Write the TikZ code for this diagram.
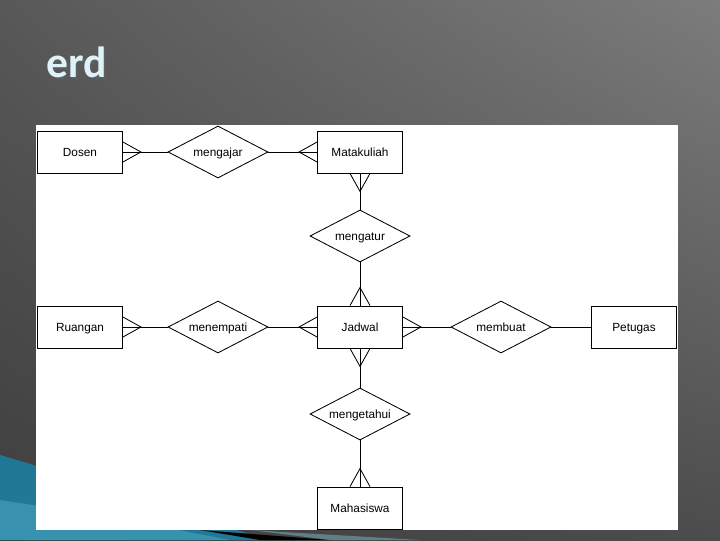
\documentclass[tikz,border=0pt]{standalone}
\usepackage{fontspec}
\setmainfont{Liberation Sans}
\newfontfamily\titlefont{Carlito}
\usetikzlibrary{shapes.geometric,calc,shadings}
\definecolor{slidetl}{RGB}{88,88,88}
\definecolor{slidetr}{RGB}{124,124,124}
\definecolor{slidebl}{RGB}{62,62,62}
\definecolor{slidebr}{RGB}{76,76,76}
\definecolor{swoosh}{RGB}{30,120,150}
\definecolor{swooshlight}{RGB}{80,170,200}
\definecolor{titlewhite}{RGB}{222,242,250}

\tikzset{
  entitybox/.style={draw, line width=0.6pt, fill=white, minimum width=2.125cm, minimum height=1.05cm, inner sep=0pt, text height=1.6ex, text depth=0.4ex, font=\fontsize{8.4}{10}\selectfont},
  relation/.style={draw, diamond, aspect=2, line width=0.6pt, fill=white, minimum width=2.5cm, minimum height=1.3cm, inner sep=0pt, text height=1.6ex, text depth=0.4ex, font=\fontsize{8.4}{10}\selectfont},
  link/.style={line width=0.6pt}
}
% crow's foot: #1 anchor, #2 length (sign gives direction)
\newcommand{\crowh}[2]{\draw[link] ($(#1)+(0,10)$) -- ($(#1)+(#2,0)$) -- ($(#1)+(0,-10)$);}
\newcommand{\crowv}[2]{\draw[link] ($(#1)+(10,0)$) -- ($(#1)+(0,#2)$) -- ($(#1)+(-10,0)$);}

\begin{document}
\begin{tikzpicture}[x=0.025cm, y=-0.025cm]
\useasboundingbox (0,0) rectangle (720,540);

% slide background
\shade[upper left=slidetl, upper right=slidetr, lower left=slidebl, lower right=slidebr] (0,0) rectangle (720,540);
\fill[swoosh] (0,455) .. controls (120,490) and (200,520) .. (270,540) -- (0,540) -- cycle;
\fill[swooshlight, opacity=0.5] (0,500) .. controls (100,515) and (180,530) .. (230,540) -- (0,540) -- cycle;
\fill[black] (200,530) -- (330,540) -- (260,540) -- cycle;
\fill[gray!70!swoosh] (250,530) -- (420,540) -- (330,540) -- cycle;

\node[anchor=base west, text=black!60, opacity=0.5, font=\titlefont\bfseries\fontsize{31}{36}\selectfont] at (44,79) {erd};
\node[anchor=base west, text=titlewhite, font=\titlefont\bfseries\fontsize{31}{36}\selectfont] (title) at (42,77) {erd};

% white panel
\fill[white] (36,125) rectangle (678,530);

% entities
\node[entitybox] (dosen) at (80,152) {Dosen};
\node[entitybox] (matakuliah) at (360,152) {Matakuliah};
\node[entitybox] (ruangan) at (80,327) {Ruangan};
\node[entitybox] (jadwal) at (360,327) {Jadwal};
\node[entitybox] (petugas) at (634,327) {Petugas};
\node[entitybox] (mahasiswa) at (360,508) {Mahasiswa};

% relations
\node[relation] (mengajar) at (218,152) {mengajar};
\node[relation] (mengatur) at (360,236) {mengatur};
\node[relation] (menempati) at (218,327) {menempati};
\node[relation] (membuat) at (501,327) {membuat};
\node[relation] (mengetahui) at (360,414) {mengetahui};

% connectors
\draw[link] (dosen) -- (mengajar);
\draw[link] (mengajar) -- (matakuliah);
\draw[link] (matakuliah) -- (mengatur);
\draw[link] (mengatur) -- (jadwal);
\draw[link] (ruangan) -- (menempati);
\draw[link] (menempati) -- (jadwal);
\draw[link] (jadwal) -- (membuat);
\draw[link] (membuat) -- (petugas);
\draw[link] (jadwal) -- (mengetahui);
\draw[link] (mengetahui) -- (mahasiswa);

% crow's feet
\crowh{dosen.east}{18}
\crowh{matakuliah.west}{-18}
\crowv{matakuliah.south}{18}
\crowv{jadwal.north}{-18}
\crowh{ruangan.east}{18}
\crowh{jadwal.west}{-18}
\crowh{jadwal.east}{18}
\crowv{jadwal.south}{18}
\crowv{mahasiswa.north}{-18}
\end{tikzpicture}
\end{document}
